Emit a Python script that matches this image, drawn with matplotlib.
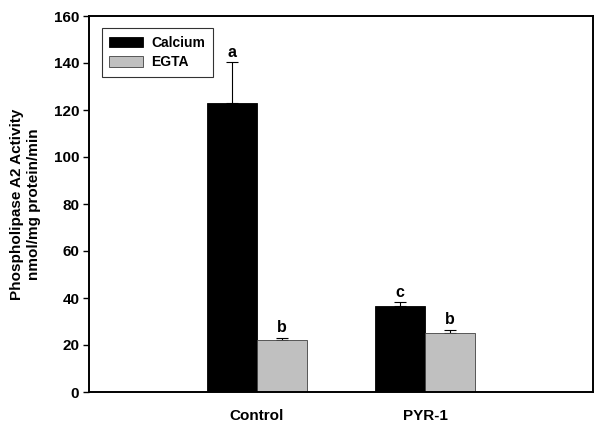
import matplotlib
matplotlib.use("Agg")
import matplotlib.pyplot as plt
import numpy as np

plt.rcParams['font.family'] = ['Liberation Sans', 'DejaVu Sans']
plt.rcParams['font.weight'] = 'bold'

groups = ['Control', 'PYR-1']
calcium = [123.0, 36.7]
calcium_err = [17.5, 1.5]
egta = [22.0, 25.3]
egta_err = [1.0, 1.0]
calcium_letters = ['a', 'c']
egta_letters = ['b', 'b']

fig = plt.figure(figsize=(6, 4.24), dpi=100)
ax = fig.add_axes([89 / 600, 1 - 392 / 424, 504 / 600, 376 / 424])

x = np.arange(1, len(groups) + 1)
w = 0.3
ax.bar(x - w / 2, calcium, w, color='black', edgecolor='black', linewidth=0.6,
       label='Calcium', zorder=2)
ax.bar(x + w / 2, egta, w, color='#c0c0c0', edgecolor='#404040', linewidth=0.6,
       label='EGTA', zorder=2)
ax.errorbar(x - w / 2, calcium, yerr=[[0] * len(calcium), calcium_err], fmt='none',
            ecolor='black', elinewidth=0.8, capsize=4.3, capthick=0.8, zorder=1)
ax.errorbar(x + w / 2, egta, yerr=[[0] * len(egta), egta_err], fmt='none',
            ecolor='black', elinewidth=0.8, capsize=4.3, capthick=0.8, zorder=1)

for xi, v, e, t in zip(x - w / 2, calcium, calcium_err, calcium_letters):
    ax.text(xi, v + e + 2.2, t, ha='center', va='baseline', fontsize=11.5, fontweight='bold')
for xi, v, e, t in zip(x + w / 2, egta, egta_err, egta_letters):
    ax.text(xi, v + e + 2.5, t, ha='center', va='baseline', fontsize=11.5, fontweight='bold')

ax.set_xlim(0, 3)
ax.set_ylim(0, 160)
ax.set_yticks(np.arange(0, 161, 20))
ax.set_xticks(x)
ax.set_xticklabels(groups)
ax.tick_params(axis='x', length=0, pad=12, labelsize=11)
ax.tick_params(axis='y', direction='out', length=4, width=1, labelsize=11, pad=3)
for s in ax.spines.values():
    s.set_linewidth(1.4)

ax.set_ylabel('Phospholipase A2 Activity\nnmol/mg protein/min', fontsize=11,
              fontweight='bold', labelpad=9, linespacing=1.3)

leg = ax.legend(loc='upper left', bbox_to_anchor=(0.02, 0.975), fancybox=False,
                edgecolor='black', fontsize=10, handlelength=2.4, handleheight=0.75,
                borderpad=0.55, labelspacing=0.4, handletextpad=0.6, borderaxespad=0.2)
leg.get_frame().set_linewidth(0.8)

fig.savefig('out.png', dpi=100)
